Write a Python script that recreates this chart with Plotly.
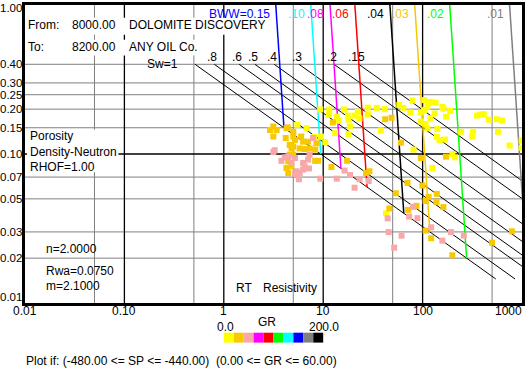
import numpy as np
import plotly.graph_objects as go

# ---------------- Archie / Pickett parameters ----------------
RW = 0.075
M_EXP = 2.1
N_EXP = 2.0
A_FACT = 1.0

SW_VALUES = [1.0, 0.8, 0.6, 0.5, 0.4, 0.3, 0.2, 0.15]
SW_LABELS = ["Sw=1", ".8", ".6", ".5", ".4", ".3", ".2", ".15"]
SW_PHI_TOP = 0.4
SW_PHI_BOTTOM = 0.0145

BWW_VALUES = [0.15, 0.10, 0.08, 0.06, 0.04, 0.03, 0.02, 0.01]
BWW_LABELS = ["BWW=0.15", ".10", ".08", ".06", ".04", ".03", ".02", ".01"]
BWW_COLORS = ["#0000FF", "#00FFFF", "#FF00FF", "#FF0000", "#000000",
              "#F8C800", "#00FF00", "#808080"]

# ---------------- axes / ticks ----------------
X_TICK_VALS = [0.01, 0.1, 1, 10, 100, 1000]
X_TICK_TEXT = ["0.01", "0.10", "1", "10", "100", "1000"]
Y_TICK_VALS = [1.0, 0.40, 0.30, 0.25, 0.20, 0.15, 0.10, 0.07, 0.05, 0.03, 0.02, 0.01]
X_GRID_GRAY = [0.05, 0.5, 5, 50, 500]
X_GRID_BLACK = [0.1, 1, 10, 100]
Y_GRID_GRAY = [0.40, 0.30, 0.25, 0.20, 0.15, 0.07, 0.05, 0.03, 0.02]
Y_GRID_BLACK = [0.10]

# ---------------- GR colour scale (0-200, 10 bins) ----------------
GR_MIN, GR_MAX = 0.0, 200.0
GR_COLORS = ["#FFFF00", "#F8C800", "#F8A8A8", "#FF00FF", "#FF0000",
             "#00FF00", "#00FFFF", "#0000FF", "#808080", "#000000"]

# ---------------- data points (RT, porosity, GR) ----------------
RT_YELLOW = [11.4, 17.7, 20.7, 28.1, 5.5, 6.8, 18.6, 13.2, 18.0, 9.5, 10.5, 8.1,
             28.1, 34.7, 41.7, 58.2, 64.2, 75, 79, 96, 104, 116, 112, 120, 135, 158,
             162, 132, 104, 120, 172, 189, 96, 107, 112, 141, 38, 244, 322, 315, 573,
             353, 380, 412, 463, 560, 628, 139, 148, 168, 81, 199, 212, 125, 750, 990,
             990, 42.8, 9.35, 11.5, 16.2, 22.3, 13.7, 14.3, 18.0, 23.2]
PHI_YELLOW = [0.183, 0.181, 0.181, 0.185, 0.157, 0.149, 0.153, 0.138, 0.136, 0.131, 0.120, 0.130,
              0.205, 0.204, 0.200, 0.213, 0.204, 0.190, 0.228, 0.190, 0.230, 0.220, 0.207, 0.224,
              0.221, 0.207, 0.201, 0.187, 0.197, 0.174, 0.178, 0.195, 0.165, 0.159, 0.149, 0.147,
              0.144, 0.141, 0.141, 0.131, 0.141, 0.181, 0.184, 0.185, 0.170, 0.171, 0.168, 0.130,
              0.124, 0.125, 0.107, 0.100, 0.095, 0.0805, 0.114, 0.123, 0.110, 0.040, 0.199, 0.199,
              0.199, 0.192, 0.178, 0.167, 0.170, 0.173]
GR_YELLOW = [10.0] * len(RT_YELLOW)

RT_ORANGE = [3.15, 2.92, 3.4, 3.15, 4.27, 4.2, 5.0, 5.2, 5.0, 6.0, 6.28, 5.8, 6.5, 4.6, 5.0,
             4.8, 4.6, 5.0, 4.45, 4.27, 4.45, 7.3, 8.3, 8.9, 12.1, 7.05, 8.55, 8.3, 27, 17.4,
             4.8, 42, 48.7, 60.5, 96, 172, 29.2, 70.5, 99.5, 139, 53.7, 46.3, 71.6, 86.7, 107,
             115, 138, 162, 107, 122, 199, 499, 791, 12.5, 4.4]
PHI_ORANGE = [0.153, 0.145, 0.145, 0.131, 0.149, 0.128, 0.141, 0.124, 0.131, 0.131, 0.121, 0.109,
              0.108, 0.115, 0.112, 0.109, 0.099, 0.099, 0.0893, 0.0805, 0.0745, 0.109, 0.090,
              0.090, 0.0817, 0.121, 0.118, 0.107, 0.0745, 0.090, 0.0827, 0.171, 0.175, 0.119,
              0.094, 0.096, 0.0766, 0.064, 0.0615, 0.054, 0.0545, 0.0431, 0.0422, 0.0449,
              0.0484, 0.0515, 0.0477, 0.044, 0.0306, 0.0272, 0.0209, 0.0254, 0.0303, 0.163, 0.151]
GR_ORANGE = [30.0] * len(RT_ORANGE)

RT_PINK = [3.15, 3.25, 3.8, 4.1, 4.45, 4.8, 6.28, 6.5, 6.28, 7.05, 7.3, 5.4, 5.8, 5.2, 5.7,
           9.35, 13.7, 16.4, 18.6, 23.2, 28.7, 20.7, 7.9, 44.5, 80.3, 73.3, 88.7, 122, 45.5,
           61.4, 51.8, 158, 193, 260, 7.2, 5.2]
PHI_PINK = [0.103, 0.106, 0.090, 0.095, 0.0964, 0.087, 0.087, 0.0827, 0.0785, 0.0918, 0.099,
            0.0766, 0.0745, 0.0735, 0.0676, 0.0683, 0.0683, 0.0774, 0.0723, 0.0676, 0.0658,
            0.0594, 0.128, 0.037, 0.0442, 0.038, 0.0371, 0.0322, 0.0299, 0.0283, 0.0235,
            0.0262, 0.0299, 0.0283, 0.080, 0.094]
GR_PINK = [50.0] * len(RT_PINK)

# ---------------- header texts ----------------
FROM_DEPTH = "8000.00"
TO_DEPTH = "8200.00"
FIELD = "DOLOMITE DISCOVERY"
COMPANY = "ANY OIL Co."
PARAM_TEXTS = ["n=2.0000", "Rwa=0.0750", "m=2.1000"]
FILTER_TEXT = "Plot if: (-480.00 <= SP <= -440.00)  (0.00 <= GR <= 60.00)"

FONT = "Arial, 'Liberation Sans', sans-serif"

# plot-area geometry (pixels) used to place layout text
L, T, W, H = 25, 2, 500, 301


def px(x):
    return (x - L) / W


def py(y):
    return (T + H - y) / H


def archie_rt(phi, sw):
    phi = np.asarray(phi, dtype=float)
    return A_FACT * RW / (phi ** M_EXP * np.asarray(sw, dtype=float) ** N_EXP)


def gr_color(gr):
    idx = int((gr - GR_MIN) / (GR_MAX - GR_MIN) * len(GR_COLORS))
    return GR_COLORS[max(0, min(len(GR_COLORS) - 1, idx))]


fig = go.Figure()


def vlines(vals, color, width):
    xs, ys = [], []
    for v in vals:
        xs += [v, v, None]
        ys += [0.01, 1.0, None]
    fig.add_trace(go.Scatter(x=xs, y=ys, mode="lines", line=dict(color=color, width=width),
                             hoverinfo="skip", showlegend=False))


def hlines(vals, color, width):
    xs, ys = [], []
    for v in vals:
        xs += [0.01, 1000, None]
        ys += [v, v, None]
    fig.add_trace(go.Scatter(x=xs, y=ys, mode="lines", line=dict(color=color, width=width),
                             hoverinfo="skip", showlegend=False))


vlines(X_GRID_GRAY, "#808080", 1)
hlines(Y_GRID_GRAY, "#808080", 1)
vlines(X_GRID_BLACK, "#000000", 1.3)
hlines(Y_GRID_BLACK, "#000000", 1.3)

# Sw lines
phi_sw = np.array([SW_PHI_TOP, SW_PHI_BOTTOM])
for sw in SW_VALUES:
    fig.add_trace(go.Scatter(x=archie_rt(phi_sw, sw), y=phi_sw, mode="lines",
                             line=dict(color="black", width=1),
                             hoverinfo="skip", showlegend=False))

# BWW lines
for bww, col in zip(BWW_VALUES, BWW_COLORS):
    phi_b = np.array([1.0, bww])
    fig.add_trace(go.Scatter(x=archie_rt(phi_b, bww / phi_b), y=phi_b, mode="lines",
                             line=dict(color=col, width=1.5),
                             hoverinfo="skip", showlegend=False))

# data points
RT_ALL = RT_YELLOW + RT_ORANGE + RT_PINK
PHI_ALL = PHI_YELLOW + PHI_ORANGE + PHI_PINK
GR_ALL = GR_YELLOW + GR_ORANGE + GR_PINK
fig.add_trace(go.Scatter(x=RT_ALL, y=PHI_ALL, mode="markers",
                         marker=dict(symbol="square", size=6,
                                     color=[gr_color(g) for g in GR_ALL],
                                     line=dict(width=0)),
                         showlegend=False))

annotations = []
shapes = []


def txt(text, x, y, xanchor="left", color="black", bg=None, size=12, **kw):
    d = dict(text=text, x=x, y=y, xref=kw.pop("xref", "paper"), yref=kw.pop("yref", "paper"),
             xanchor=xanchor, yanchor=kw.pop("yanchor", "middle"), showarrow=False,
             font=dict(family=FONT, size=size, color=color))
    if bg:
        d["bgcolor"] = bg
    d.update(kw)
    annotations.append(d)


# white boxes behind header texts
for (x0, y0, x1, y1) in [(27, 15, 264, 32), (27, 37, 197, 53), (27, 128, 119, 171)]:
    shapes.append(dict(type="rect", xref="paper", yref="paper", x0=px(x0), x1=px(x1),
                       y0=py(y1), y1=py(y0), fillcolor="white", line=dict(width=0),
                       layer="above"))

txt("From:", px(26), py(22.5))
txt(FROM_DEPTH, px(70), py(22.5))
txt(FIELD, px(128), py(22.5))
txt("To:", px(26), py(44))
txt(TO_DEPTH, px(70), py(44))
txt(COMPANY, px(128), py(44))
txt("Porosity<br>Density-Neutron<br>RHOF=1.00", px(28), py(149.5), align="left")
txt(PARAM_TEXTS[0], px(44), py(248))
txt(PARAM_TEXTS[1], px(44), py(271))
txt(PARAM_TEXTS[2], px(44), py(286))
txt("RT", px(235), py(288))
txt("Resistivity", px(262), py(288))

# y tick labels
for v in Y_TICK_VALS:
    ys = 0
    if v == 1.0:
        ys = -3
    elif v == 0.01:
        ys = 6
    txt("%.2f" % v, 0, np.log10(v), xanchor="right", yref="y", xshift=-1, yshift=ys,
        size=11.5)

# x tick labels
for v, t in zip(X_TICK_VALS, X_TICK_TEXT):
    if v == X_TICK_VALS[-1]:
        txt(t, np.log10(v), py(311.5), xanchor="right", xref="x", xshift=2)
    else:
        txt(t, np.log10(v), py(311.5), xanchor="center", xref="x")

# Sw labels
for sw, lab in zip(SW_VALUES, SW_LABELS):
    x0 = float(np.log10(archie_rt(SW_PHI_TOP, sw)))
    if lab.startswith("Sw"):
        txt(lab, x0, np.log10(SW_PHI_TOP), xanchor="right", xref="x", yref="y", xshift=-15)
    else:
        txt(lab, x0, np.log10(SW_PHI_TOP), xanchor="center", xref="x", yref="y",
            xshift=-2, yshift=7)

# BWW labels
for bww, lab, col in zip(BWW_VALUES, BWW_LABELS, BWW_COLORS):
    x0 = float(np.log10(archie_rt(1.0, bww)))
    txt(lab, x0, py(11), xanchor="right", xref="x", xshift=-4, color=col)

# GR colour legend
for i, c in enumerate(GR_COLORS):
    shapes.append(dict(type="rect", xref="paper", yref="paper",
                       x0=px(225 + 10 * i), x1=px(235 + 10 * i), y0=py(343), y1=py(333),
                       fillcolor=c, line=dict(width=0)))
txt("GR", px(268), py(322), xanchor="center")
txt("%.1f" % GR_MIN, px(227), py(327), xanchor="center")
txt("%.1f" % GR_MAX, px(326), py(327), xanchor="center")
txt(FILTER_TEXT, px(24), py(362))

fig.update_layout(
    width=527, height=369,
    margin=dict(l=L, r=527 - L - W, t=T, b=369 - T - H),
    paper_bgcolor="white", plot_bgcolor="white",
    showlegend=False,
    font=dict(family=FONT, size=12, color="black"),
    xaxis=dict(type="log", range=[-2, 3], showgrid=False, zeroline=False,
               showticklabels=False, ticks="", showline=True, mirror=True,
               linecolor="black", linewidth=2.5),
    yaxis=dict(type="log", range=[-2, 0], showgrid=False, zeroline=False,
               showticklabels=False, ticks="", showline=True, mirror=True,
               linecolor="black", linewidth=2.5),
    annotations=annotations,
    shapes=shapes,
)

fig.write_html("out.html", config={"displayModeBar": False},
               post_script="document.body.style.margin='0';document.body.style.overflow='hidden';")
